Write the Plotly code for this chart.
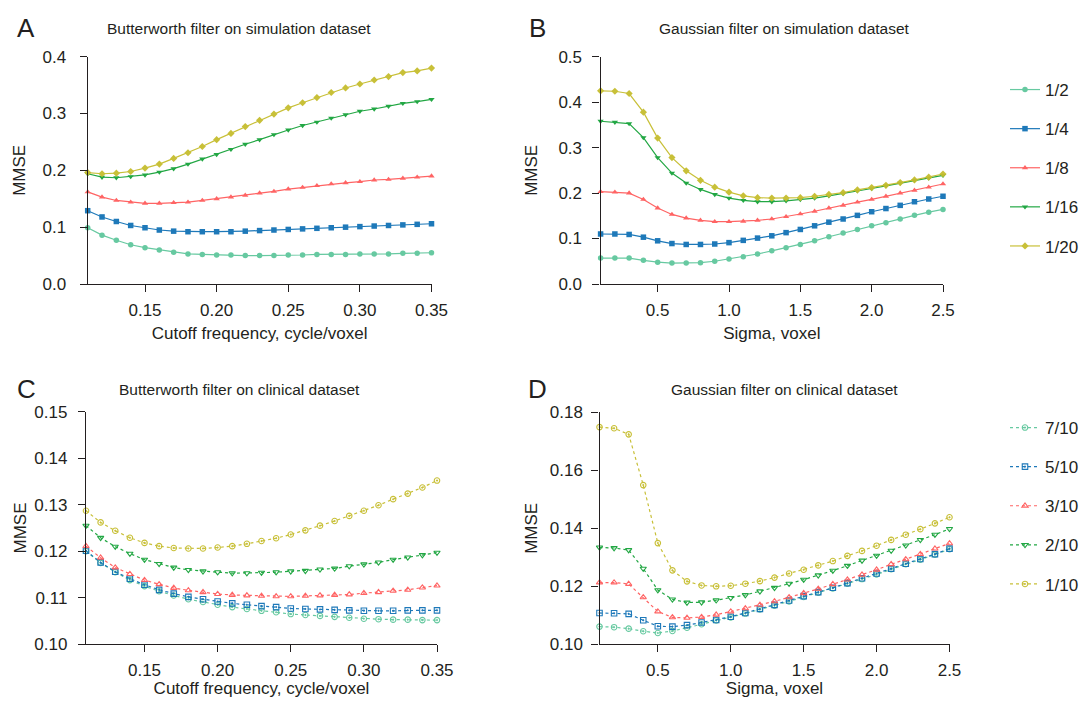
import plotly.graph_objects as go

# The page body has an 8 px margin, so the figure is sized to fit the window
# without scrollbars, and positions below are read in window pixels.
OFF = 8
W, H = 1089 - OFF, 706 - 2 * OFF

# ---------------- data ----------------
cutoff = [0.11, 0.12, 0.13, 0.14, 0.15, 0.16, 0.17, 0.18, 0.19, 0.20, 0.21, 0.22, 0.23,
          0.24, 0.25, 0.26, 0.27, 0.28, 0.29, 0.30, 0.31, 0.32, 0.33, 0.34, 0.35]
sigma = [0.1, 0.2, 0.3, 0.4, 0.5, 0.6, 0.7, 0.8, 0.9, 1.0, 1.1, 1.2, 1.3,
         1.4, 1.5, 1.6, 1.7, 1.8, 1.9, 2.0, 2.1, 2.2, 2.3, 2.4, 2.5]

sim_names = ["1/2", "1/4", "1/8", "1/16", "1/20"]
clin_names = ["7/10", "5/10", "3/10", "2/10", "1/10"]

# Panel A: Butterworth filter on simulation dataset
a_1_2 = [0.099, 0.086, 0.077, 0.069, 0.064, 0.060, 0.056, 0.053, 0.052, 0.051, 0.051, 0.050, 0.050,
         0.050, 0.051, 0.051, 0.052, 0.052, 0.052, 0.053, 0.053, 0.053, 0.054, 0.054, 0.055]
a_1_4 = [0.129, 0.118, 0.110, 0.103, 0.099, 0.095, 0.093, 0.092, 0.092, 0.092, 0.092, 0.093, 0.094,
         0.095, 0.096, 0.097, 0.098, 0.099, 0.100, 0.101, 0.102, 0.103, 0.104, 0.105, 0.106]
a_1_8 = [0.162, 0.153, 0.147, 0.144, 0.142, 0.142, 0.143, 0.144, 0.147, 0.150, 0.153, 0.156, 0.160,
         0.163, 0.167, 0.170, 0.173, 0.176, 0.178, 0.180, 0.183, 0.184, 0.186, 0.188, 0.190]
a_1_16 = [0.194, 0.188, 0.187, 0.189, 0.192, 0.197, 0.203, 0.211, 0.220, 0.228, 0.237, 0.246, 0.254,
          0.263, 0.271, 0.279, 0.285, 0.292, 0.298, 0.304, 0.308, 0.313, 0.318, 0.321, 0.325]
a_1_20 = [0.196, 0.194, 0.195, 0.198, 0.204, 0.211, 0.221, 0.231, 0.242, 0.254, 0.265, 0.277, 0.288,
          0.299, 0.310, 0.319, 0.328, 0.337, 0.345, 0.352, 0.359, 0.365, 0.372, 0.375, 0.380]

# Panel B: Gaussian filter on simulation dataset
b_1_2 = [0.057, 0.057, 0.057, 0.052, 0.048, 0.046, 0.046, 0.047, 0.050, 0.055, 0.060, 0.066, 0.073,
         0.080, 0.087, 0.095, 0.104, 0.112, 0.120, 0.128, 0.135, 0.143, 0.151, 0.158, 0.164]
b_1_4 = [0.110, 0.110, 0.109, 0.103, 0.095, 0.089, 0.087, 0.087, 0.088, 0.091, 0.096, 0.101, 0.106,
         0.113, 0.120, 0.128, 0.136, 0.143, 0.151, 0.159, 0.166, 0.173, 0.181, 0.187, 0.193]
b_1_8 = [0.203, 0.202, 0.200, 0.186, 0.167, 0.153, 0.145, 0.140, 0.137, 0.137, 0.138, 0.140, 0.143,
         0.148, 0.154, 0.160, 0.167, 0.173, 0.180, 0.186, 0.193, 0.200, 0.206, 0.213, 0.220]
b_1_16 = [0.358, 0.356, 0.353, 0.322, 0.278, 0.244, 0.222, 0.208, 0.197, 0.189, 0.184, 0.181, 0.181,
          0.183, 0.186, 0.189, 0.194, 0.199, 0.205, 0.210, 0.216, 0.222, 0.228, 0.233, 0.239]
b_1_20 = [0.425, 0.424, 0.419, 0.378, 0.321, 0.278, 0.249, 0.228, 0.213, 0.202, 0.194, 0.190, 0.189,
          0.189, 0.190, 0.193, 0.197, 0.201, 0.207, 0.212, 0.217, 0.223, 0.229, 0.235, 0.242]

# Panel C: Butterworth filter on clinical dataset
c_7_10 = [0.1200, 0.1175, 0.1155, 0.1138, 0.1125, 0.1114, 0.1105, 0.1097, 0.1091, 0.1085, 0.1080, 0.1076, 0.1072,
          0.1069, 0.1065, 0.1063, 0.1061, 0.1059, 0.1057, 0.1055, 0.1054, 0.1053, 0.1053, 0.1052, 0.1052]
c_5_10 = [0.1201, 0.1176, 0.1156, 0.1141, 0.1128, 0.1117, 0.1109, 0.1102, 0.1097, 0.1092, 0.1088, 0.1085, 0.1082,
          0.1080, 0.1077, 0.1076, 0.1075, 0.1074, 0.1073, 0.1072, 0.1072, 0.1072, 0.1073, 0.1073, 0.1073]
c_3_10 = [0.1211, 0.1186, 0.1165, 0.1151, 0.1138, 0.1129, 0.1121, 0.1116, 0.1112, 0.1108, 0.1106, 0.1105, 0.1104,
          0.1103, 0.1103, 0.1104, 0.1105, 0.1106, 0.1107, 0.1110, 0.1112, 0.1115, 0.1117, 0.1122, 0.1126]
c_2_10 = [0.1255, 0.1229, 0.1210, 0.1195, 0.1182, 0.1173, 0.1165, 0.1160, 0.1157, 0.1155, 0.1153, 0.1153, 0.1154,
          0.1155, 0.1157, 0.1158, 0.1161, 0.1163, 0.1168, 0.1172, 0.1176, 0.1182, 0.1187, 0.1192, 0.1197]
c_1_10 = [0.1287, 0.1262, 0.1244, 0.1229, 0.1218, 0.1211, 0.1207, 0.1206, 0.1206, 0.1208, 0.1211, 0.1216, 0.1222,
          0.1228, 0.1236, 0.1245, 0.1255, 0.1265, 0.1276, 0.1287, 0.1299, 0.1312, 0.1324, 0.1337, 0.1352]

# Panel D: Gaussian filter on clinical dataset
d_7_10 = [0.1061, 0.1059, 0.1054, 0.1045, 0.1039, 0.1046, 0.1057, 0.1069, 0.1082, 0.1093, 0.1106, 0.1120, 0.1133,
          0.1148, 0.1163, 0.1178, 0.1193, 0.1209, 0.1225, 0.1241, 0.1259, 0.1276, 0.1292, 0.1309, 0.1328]
d_5_10 = [0.1108, 0.1107, 0.1105, 0.1083, 0.1062, 0.1061, 0.1066, 0.1075, 0.1084, 0.1095, 0.1108, 0.1122, 0.1136,
          0.1151, 0.1166, 0.1180, 0.1195, 0.1211, 0.1228, 0.1244, 0.1261, 0.1278, 0.1294, 0.1311, 0.1330]
d_3_10 = [0.1213, 0.1213, 0.1208, 0.1162, 0.1113, 0.1093, 0.1091, 0.1094, 0.1102, 0.1113, 0.1124, 0.1136, 0.1148,
          0.1162, 0.1176, 0.1191, 0.1207, 0.1223, 0.1240, 0.1257, 0.1276, 0.1293, 0.1311, 0.1330, 0.1348]
d_2_10 = [0.1334, 0.1332, 0.1325, 0.1261, 0.1187, 0.1155, 0.1144, 0.1145, 0.1152, 0.1160, 0.1170, 0.1183, 0.1195,
          0.1209, 0.1223, 0.1238, 0.1254, 0.1271, 0.1289, 0.1306, 0.1323, 0.1341, 0.1360, 0.1378, 0.1398]
d_1_10 = [0.1749, 0.1745, 0.1724, 0.1549, 0.1349, 0.1255, 0.1217, 0.1203, 0.1200, 0.1202, 0.1209, 0.1218, 0.1230,
          0.1244, 0.1257, 0.1272, 0.1287, 0.1305, 0.1322, 0.1340, 0.1360, 0.1378, 0.1397, 0.1417, 0.1438]

# ---------------- styles ----------------
colors = ["#5fc79c", "#1272b6", "#ff5c5c", "#17a33a", "#c6bd2e"]
solid_symbols = ["circle", "square", "triangle-up", "triangle-down", "diamond"]
open_symbols = ["circle-open-dot", "square-open-dot", "triangle-up-open", "triangle-down-open", "circle-open-dot"]
FONT = "Liberation Sans, Arial, Helvetica, sans-serif"
TXT = "#231f20"

fig = go.Figure()

panels = [
    ("x", "y", cutoff, [a_1_2, a_1_4, a_1_8, a_1_16, a_1_20], sim_names, False, None),
    ("x2", "y2", sigma, [b_1_2, b_1_4, b_1_8, b_1_16, b_1_20], sim_names, False, "legend"),
    ("x3", "y3", cutoff, [c_7_10, c_5_10, c_3_10, c_2_10, c_1_10], clin_names, True, None),
    ("x4", "y4", sigma, [d_7_10, d_5_10, d_3_10, d_2_10, d_1_10], clin_names, True, "legend2"),
]

for xa, ya, xs, series, names, dashed, leg in panels:
    for i, (ys, nm) in enumerate(zip(series, names)):
        fig.add_trace(go.Scatter(
            x=xs, y=ys, name=nm, xaxis=xa, yaxis=ya,
            mode="lines+markers", cliponaxis=False,
            line=dict(color=colors[i], width=1.2, dash="3px,3px" if dashed else "solid"),
            marker=dict(symbol=open_symbols[i] if dashed else solid_symbols[i],
                        size=5.5, color=colors[i],
                        line=dict(color=colors[i], width=1.1 if dashed else 0)),
            opacity=0.95,
            showlegend=leg is not None,
            legend=leg if leg else "legend",
            legendgroup=(leg or "l") + nm,
        ))

def px_x(p):
    return (p - OFF) / W

def px_y(p):
    return 1 - (p - OFF) / H

axis_common = dict(
    showline=True, linecolor="#231f20", linewidth=1.3, ticks="outside", ticklen=7,
    tickwidth=1.3, tickcolor="#231f20", showgrid=False, zeroline=False, automargin=False,
    tickfont=dict(family=FONT, size=17, color=TXT),
    title_font=dict(family=FONT, size=17, color=TXT),
)
XT = "Cutoff frequency, cycle/voxel"
XS = "Sigma, voxel"

layout_axes = {}
# A
layout_axes["xaxis"] = dict(axis_common, domain=[px_x(87.7), px_x(431.5)], range=[0.11, 0.35], anchor="y",
                            tickvals=[0.15, 0.20, 0.25, 0.30, 0.35], tickformat=".2f",
                            ticklabelstandoff=3, title=dict(text=XT, standoff=8))
layout_axes["yaxis"] = dict(axis_common, domain=[px_y(284), px_y(56.7)], range=[0, 0.4], anchor="x",
                            tickvals=[0, 0.1, 0.2, 0.3, 0.4], tickformat=".1f",
                            ticklabelstandoff=10, title=dict(text="MMSE", standoff=12))
# B
layout_axes["xaxis2"] = dict(axis_common, domain=[px_x(600.6), px_x(943)], range=[0.1, 2.5], anchor="y2",
                             tickvals=[0.5, 1.0, 1.5, 2.0, 2.5], tickformat=".1f",
                             ticklabelstandoff=3, title=dict(text=XS, standoff=8))
layout_axes["yaxis2"] = dict(axis_common, domain=[px_y(284), px_y(56.7)], range=[0, 0.5], anchor="x2",
                             tickvals=[0, 0.1, 0.2, 0.3, 0.4, 0.5], tickformat=".1f",
                             ticklabelstandoff=7, title=dict(text="MMSE", standoff=16))
# C
layout_axes["xaxis3"] = dict(axis_common, domain=[px_x(86), px_x(437)], range=[0.11, 0.35], anchor="y3",
                             tickvals=[0.15, 0.20, 0.25, 0.30, 0.35], tickformat=".2f",
                             ticklabelstandoff=3, title=dict(text=XT, standoff=2))
layout_axes["yaxis3"] = dict(axis_common, domain=[px_y(644.3), px_y(411.7)], range=[0.10, 0.15], anchor="x3",
                             tickvals=[0.10, 0.11, 0.12, 0.13, 0.14, 0.15], tickformat=".2f",
                             ticklabelstandoff=7, title=dict(text="MMSE", standoff=3))
# D
layout_axes["xaxis4"] = dict(axis_common, domain=[px_x(599.5), px_x(949.5)], range=[0.1, 2.5], anchor="y4",
                             tickvals=[0.5, 1.0, 1.5, 2.0, 2.5], tickformat=".1f",
                             ticklabelstandoff=3, title=dict(text=XS, standoff=2))
layout_axes["yaxis4"] = dict(axis_common, domain=[px_y(644.3), px_y(412.3)], range=[0.10, 0.18], anchor="x4",
                             tickvals=[0.10, 0.12, 0.14, 0.16, 0.18], tickformat=".2f",
                             ticklabelstandoff=5, title=dict(text="MMSE", standoff=7))

annotations = []
titles = [
    ("Butterworth filter on simulation dataset", 239, 28),
    ("Gaussian filter on simulation dataset", 784.5, 28),
    ("Butterworth filter on clinical dataset", 239, 389),
    ("Gaussian filter on clinical dataset", 784, 389),
]
for t, cx, cy in titles:
    annotations.append(dict(text=t, x=px_x(cx), y=px_y(cy), xref="paper", yref="paper",
                            xanchor="center", yanchor="middle", showarrow=False,
                            font=dict(family=FONT, size=15.5, color=TXT)))
letters = [("A", 26, 28), ("B", 537, 28), ("C", 26, 389), ("D", 537, 389)]
for t, cx, cy in letters:
    annotations.append(dict(text=t, x=px_x(cx), y=px_y(cy), xref="paper", yref="paper",
                            xanchor="center", yanchor="middle", showarrow=False,
                            font=dict(family=FONT, size=26, color=TXT)))

legend_common = dict(
    xanchor="left", yanchor="top", traceorder="grouped", tracegroupgap=14,
    font=dict(family=FONT, size=17, color=TXT), bgcolor="rgba(0,0,0,0)",
    itemwidth=30,
)

fig.update_layout(
    width=W, height=H,
    margin=dict(l=0, r=0, t=0, b=0, autoexpand=False),
    paper_bgcolor="white", plot_bgcolor="white",
    font=dict(family=FONT, color=TXT),
    annotations=annotations,
    legend=dict(legend_common, x=px_x(1005), y=px_y(72)),
    legend2=dict(legend_common, x=px_x(1005), y=px_y(410)),
    **layout_axes,
)

fig.write_html("out.html")
